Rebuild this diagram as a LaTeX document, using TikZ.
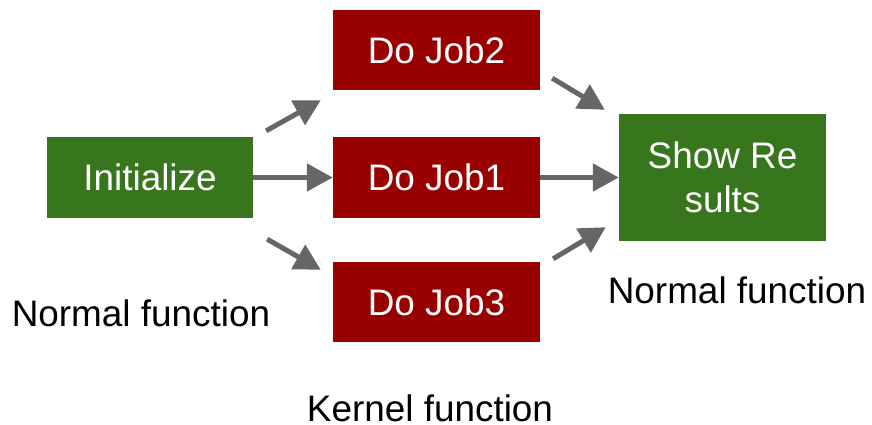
\documentclass[tikz,border=0pt]{standalone}
\usepackage{fontspec}
\setmainfont{Liberation Sans}
\usetikzlibrary{arrows.meta}
\definecolor{boxgreen}{HTML}{38761D}
\definecolor{boxred}{HTML}{990000}
\definecolor{arrowgray}{HTML}{666666}
\begin{document}
\begin{tikzpicture}[x=1pt,y=-1pt,
  every node/.style={font=\fontsize{36.9}{44.3}\selectfont, inner sep=0pt},
  stepbox/.style={fill=#1, text=white, minimum width=207pt, align=center},
  flow/.style={draw=arrowgray, line width=5pt, -{Triangle[length=26pt,width=27pt]}},
  caption/.style={text=black, anchor=base}]
\useasboundingbox (0,0) rectangle (872,425);

% boxes
\node[stepbox=boxgreen, minimum width=206pt, minimum height=81pt] (init) at (150,177.5) {Initialize};
\node[stepbox=boxred, minimum height=80pt] (job2) at (436.5,50) {Do Job2};
\node[stepbox=boxred, minimum height=81pt] (job1) at (436.5,177.5) {Do Job1};
\node[stepbox=boxred, minimum height=80pt] (job3) at (436.5,302) {Do Job3};
\node[stepbox=boxgreen, minimum height=127pt] (show) at (722.5,177.5) {Show Re\\sults};

% captions
\node[caption] (capL) at (141,326) {Normal function};
\node[caption] (capR) at (737,303) {Normal function};
\node[caption] (capK) at (430,421) {Kernel function};

% fan out
\draw[flow] ([shift={(13,-6)}]init.north east) -- ([shift={(-12,10)}]job2.south west);
\draw[flow] (init.east) -- (job1.west);
\draw[flow] ([shift={(14,21)}]init.south east) -- ([shift={(-12,8)}]job3.north west);

% fan in
\draw[flow] ([shift={(12,-12)}]job2.south east) -- ([shift={(-14,-4)}]show.north west);
\draw[flow] (job1.east) -- (show.west);
\draw[flow] ([shift={(13,-3)}]job3.north east) -- ([shift={(-13,-14)}]show.south west);
\end{tikzpicture}
\end{document}
